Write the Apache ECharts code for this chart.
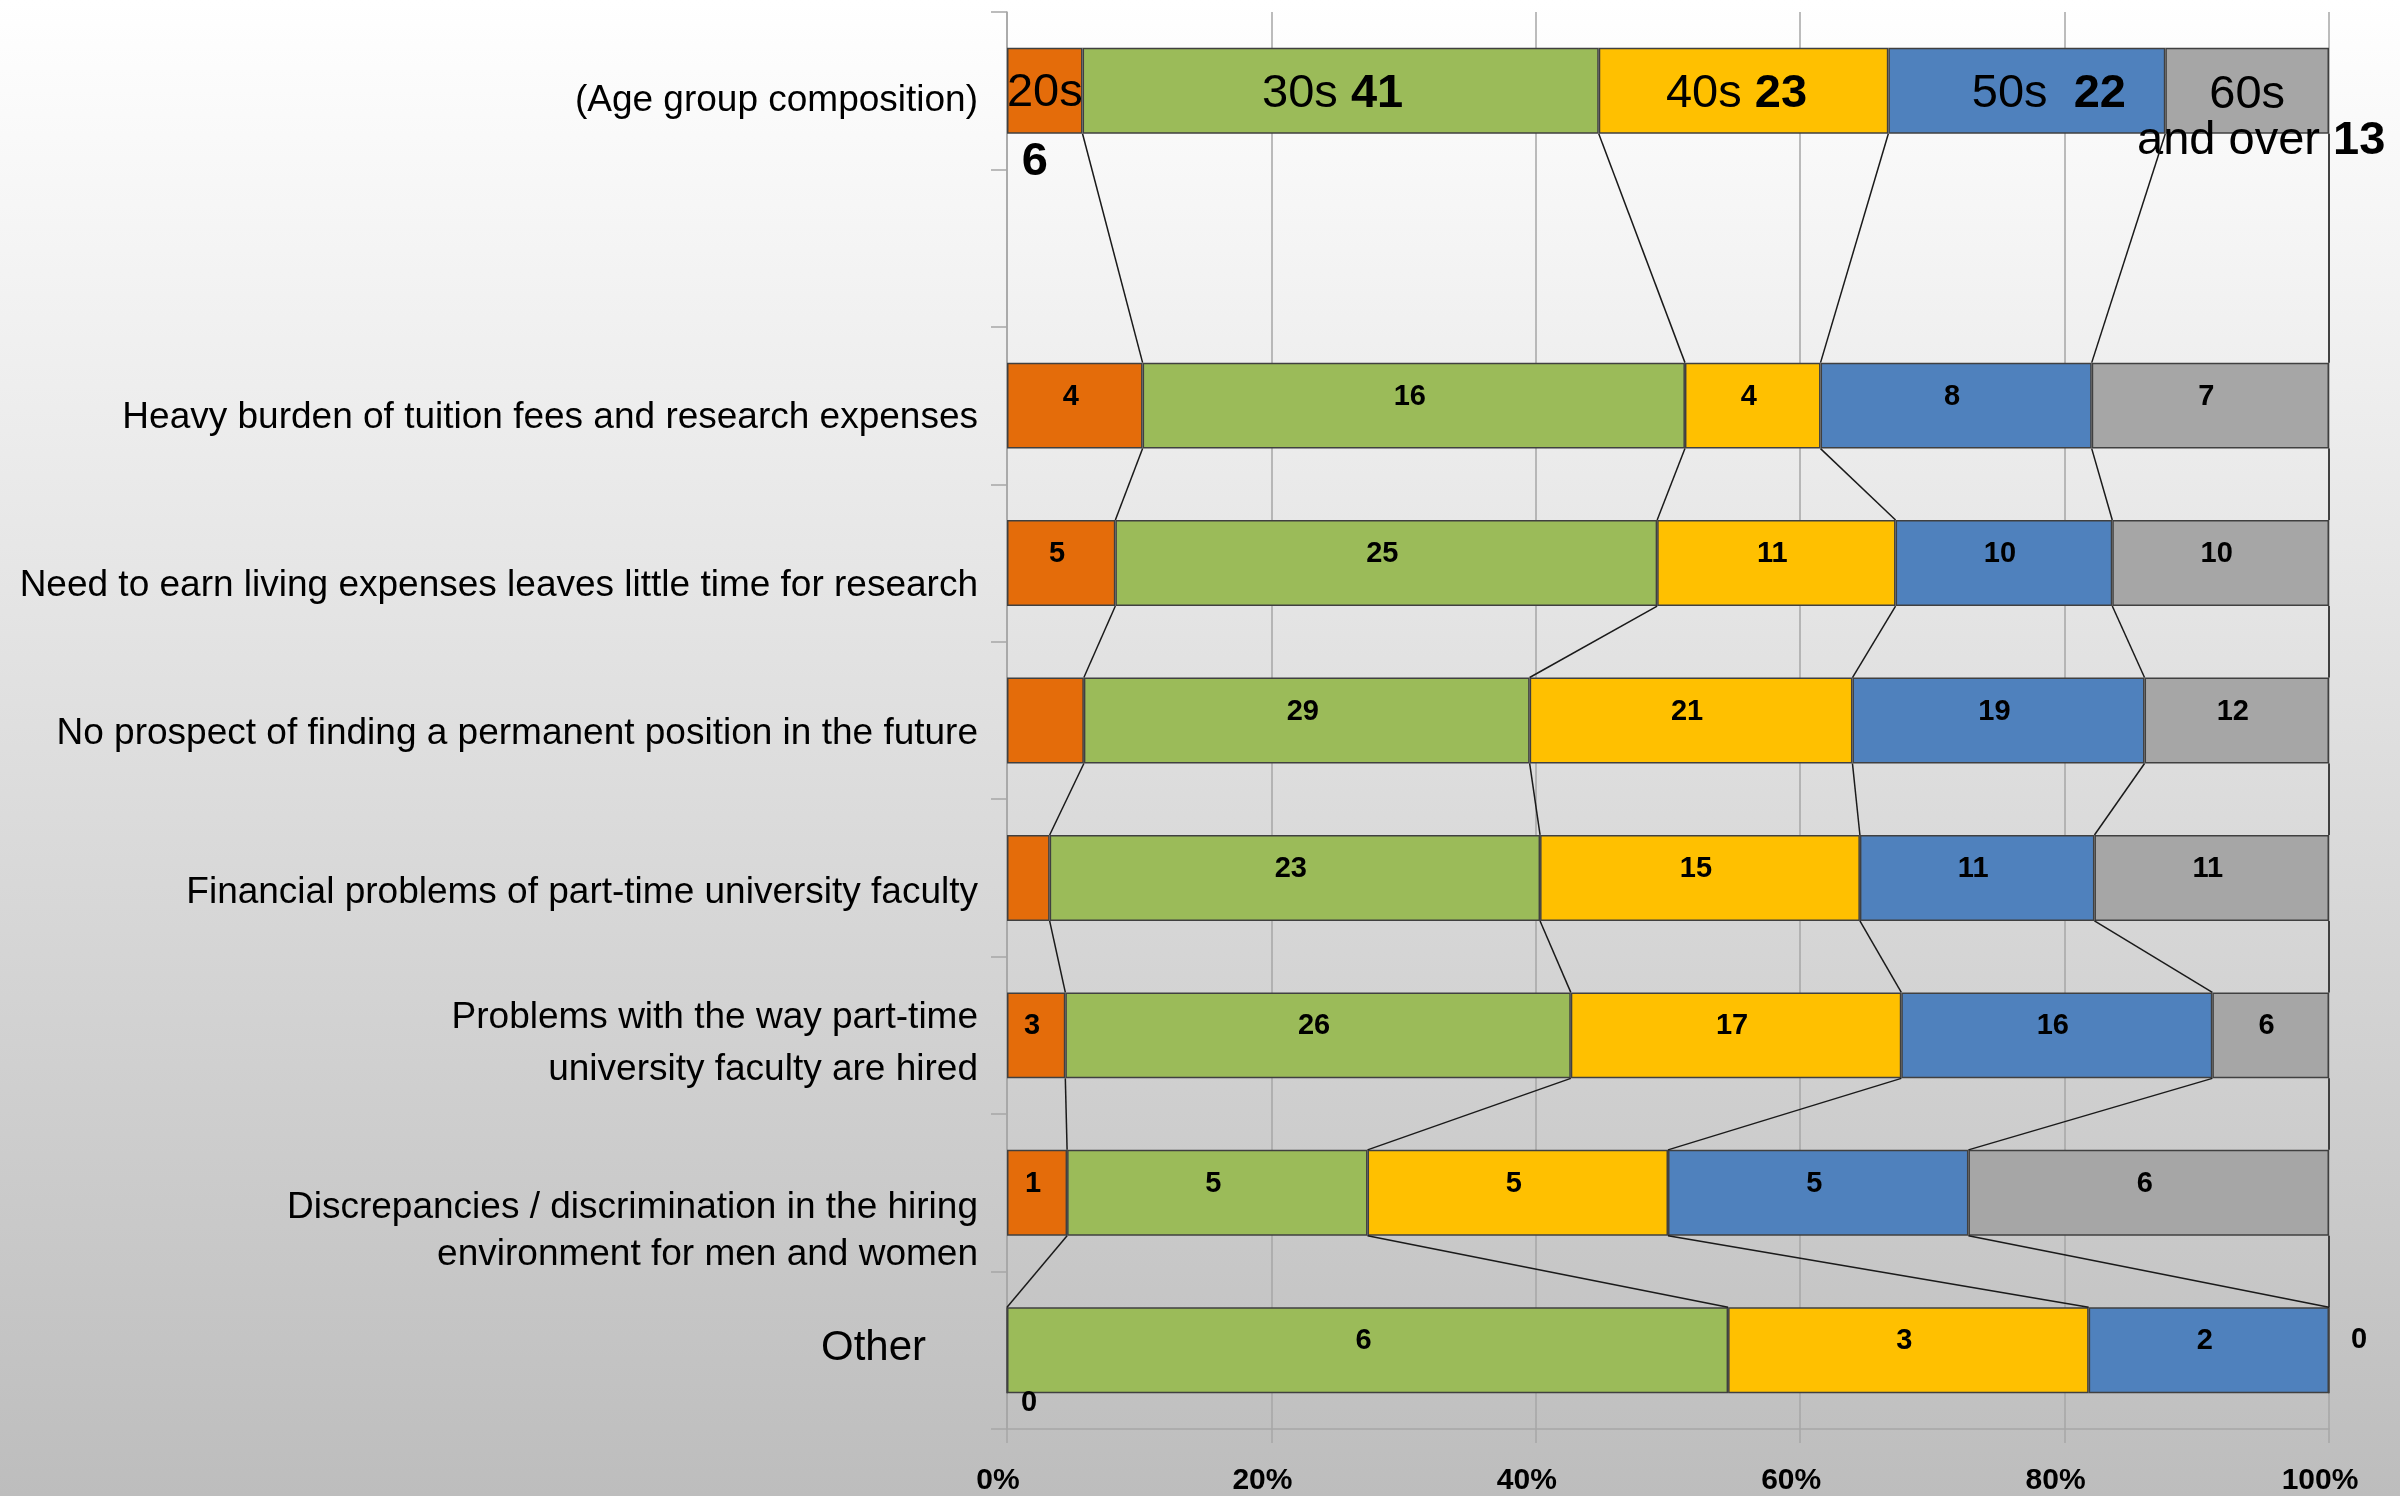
<!DOCTYPE html>
<html>
<head>
<meta charset="utf-8">
<script src="https://cdn.jsdelivr.net/npm/echarts@6/dist/echarts.min.js"></script>
<style>html,body{margin:0;padding:0;}#c{width:2400px;height:1496px;}</style>
</head>
<body>
<div id="c"></div>
<script>
const categories = [
  '(Age group composition)',
  '',
  'Heavy burden of tuition fees and research expenses',
  'Need to earn living expenses leaves little time for research',
  'No prospect of finding a permanent position in the future',
  'Financial problems of part-time university faculty',
  'Problems with the way part-time\nuniversity faculty are hired',
  'Discrepancies / discrimination in the hiring\nenvironment for men and women',
  'Other'
];
const seriesNames = ['20s', '30s', '40s', '50s', '60s and over'];
const v20s = [6, null, 4, 5, 5, 2, 3, 1, 0];
const v30s = [41, null, 16, 25, 29, 23, 26, 5, 6];
const v40s = [23, null, 4, 11, 21, 15, 17, 5, 3];
const v50s = [22, null, 8, 10, 19, 11, 16, 5, 2];
const v60s = [13, null, 7, 10, 12, 11, 6, 6, 0];
const xTickLabels = ['0%', '20%', '40%', '60%', '80%', '100%'];
const colors = ['#E46C0A', '#9BBB59', '#FFC000', '#4F81BD', '#A6A6A6'];
// data labels not shown in the reference: [seriesIndex, rowIndex]
const hiddenLabels = [[0, 4], [0, 5]];

// layout of the category labels: downward shift (px) and line height
const catLabelShift = [10, 0, 12, 23, 13, 15, 8, 38, -2];
const catLabelLineHeight = [50, 50, 50, 50, 50, 50, 52, 47, 50];

const values = [v20s, v30s, v40s, v50s, v60s];
const nRows = categories.length;
const totals = categories.map((_, r) => values.reduce((s, arr) => s + (arr[r] || 0), 0));
const pct = values.map(arr => arr.map((v, r) => v == null ? null : v / totals[r] * 100));

const BAR_FRAC = 0.546;
const FONT = '"Liberation Sans", Arial, sans-serif';

// age-row label settings (layout only)
const ageLabel = [
  { text: '{n|20s}\n{b6|6}', offset: [0, 37] },
  { text: '{n|30s }{b|41}', offset: [-8, 3] },
  { text: '{n|40s }{b|23}', offset: [-7, 3] },
  { text: '{n|50s  }{b|22}', offset: [22, 3] },
  { text: '{n|60s}\n{n2|and over }{b|13}', offset: [0, 27] }
];

const series = values.map((arr, s) => ({
  name: seriesNames[s],
  type: 'bar',
  stack: 'total',
  barWidth: (BAR_FRAC * 100) + '%',
  itemStyle: { color: colors[s], borderColor: '#404040', borderWidth: 1.5 },
  z: 3,
  label: {
    show: true, position: 'inside', color: '#000', fontFamily: FONT,
    fontWeight: 'bold', fontSize: 29, offset: [-4, -9]
  },
  data: arr.map((v, r) => {
    if (v == null) return null;
    const item = { value: pct[s][r], raw: v };
    const hidden = hiddenLabels.some(h => h[0] === s && h[1] === r);
    if (hidden) {
      item.label = { show: false };
    } else if (r === 0) {
      const a = ageLabel[s];
      item.label = {
        show: true, formatter: a.text, offset: a.offset,
        rich: {
          n: { fontSize: 47, fontFamily: FONT, color: '#000', fontWeight: 'normal', lineHeight: s === 0 ? 69 : 46 },
          n2: { fontSize: 47, fontFamily: FONT, color: '#000', fontWeight: 'normal', lineHeight: 46, padding: [0, 0, 0, 28] },
          b: { fontSize: 47, fontFamily: FONT, color: '#000', fontWeight: 'bold', lineHeight: 46 },
          b6: { fontSize: 47, fontFamily: FONT, color: '#000', fontWeight: 'bold', lineHeight: 69, padding: [0, 20, 0, 0] }
        }
      };
    } else {
      item.label = { formatter: String(v) };
      if (v === 0 && s === 0) item.label.offset = [22, 53];
      if (v === 0 && s === values.length - 1) item.label.offset = [30, -10];
    }
    return item;
  })
}));

// series connector lines between consecutive non-empty rows
const rowsWithData = [];
for (let r = 0; r < nRows; r++) if (totals[r] > 0) rowsWithData.push(r);
const connectorData = [];
for (let i = 0; i < rowsWithData.length - 1; i++) {
  const r1 = rowsWithData[i], r2 = rowsWithData[i + 1];
  let c1 = 0, c2 = 0;
  for (let s = 0; s < values.length; s++) {
    c1 += pct[s][r1] || 0;
    c2 += pct[s][r2] || 0;
    connectorData.push([c1, r1, c2, r2]);
  }
}
series.push({
  type: 'custom',
  z: 4,
  silent: true,
  encode: { x: [0, 2], y: [1, 3] },
  data: connectorData,
  renderItem: function (params, api) {
    const p1 = api.coord([api.value(0), api.value(1)]);
    const p2 = api.coord([api.value(2), api.value(3)]);
    const half = api.size([0, 1])[1] * BAR_FRAC / 2;
    return {
      type: 'line',
      shape: { x1: p1[0], y1: p1[1] + half, x2: p2[0], y2: p2[1] - half },
      style: { stroke: '#1a1a1a', lineWidth: 1.5 }
    };
  }
});

// rich styles for the category labels
const yRich = {};
categories.forEach((c, i) => {
  const isOther = c === 'Other';
  yRich['t' + i] = {
    fontSize: isOther ? 42 : 37, fontFamily: FONT, color: '#000',
    lineHeight: catLabelLineHeight[i], padding: isOther ? [0, 52, 0, 0] : 0
  };
  yRich['sp' + i] = { fontSize: 1, lineHeight: Math.max(1, 2 * Math.abs(catLabelShift[i])) };
});

const chart = echarts.init(document.getElementById('c'), null, { renderer: 'canvas' });
chart.setOption({
  animation: false,
  backgroundColor: {
    type: 'linear', x: 0, y: 0, x2: 0, y2: 1,
    colorStops: [{ offset: 0, color: '#ffffff' }, { offset: 1, color: '#bdbdbd' }]
  },
  grid: { left: 1007, right: 71, top: 12, bottom: 67, containLabel: false, outerBoundsMode: 'none' },
  xAxis: {
    type: 'value', min: 0, max: 100, interval: 20,
    axisLine: { show: true, lineStyle: { color: '#a6a6a6', width: 1.5 } },
    axisTick: { show: true, length: 14, lineStyle: { color: '#a6a6a6', width: 1.5 } },
    splitLine: { show: true, lineStyle: { color: '#a6a6a6', width: 1.5 } },
    axisLabel: {
      formatter: v => xTickLabels[Math.round(v / 20)],
      color: '#000', fontFamily: FONT, fontWeight: 'bold', fontSize: 30, margin: 37,
      padding: [0, 18, 0, 0]
    }
  },
  yAxis: {
    type: 'category', inverse: true, data: categories,
    axisLine: { show: true, lineStyle: { color: '#a6a6a6', width: 1.5 } },
    axisTick: { show: true, length: 16, lineStyle: { color: '#a6a6a6', width: 1.5 } },
    splitLine: { show: false },
    axisLabel: {
      color: '#000', fontFamily: FONT, fontSize: 37, margin: 29,
      formatter: function (v, i) {
        if (!v) return '';
        const lines = v.split('\n').map(l => '{t' + i + '|' + l + '}').join('\n');
        const d = catLabelShift[i];
        if (d > 0) return '{sp' + i + '| }\n' + lines;
        if (d < 0) return lines + '\n{sp' + i + '| }';
        return lines;
      },
      rich: yRich
    }
  },
  series: series
});
</script>
</body>
</html>
